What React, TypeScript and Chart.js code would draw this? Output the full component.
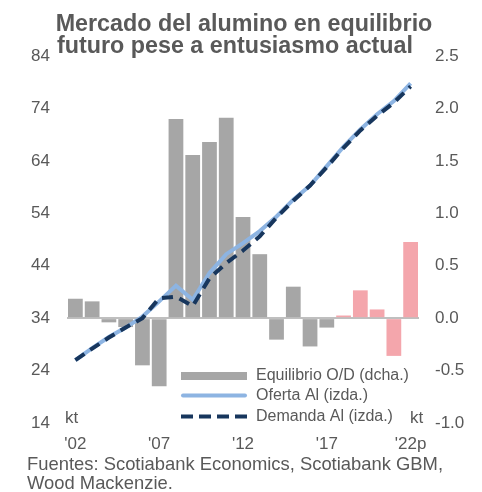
import React, { useEffect, useRef } from "react";
import { Chart, registerables } from "chart.js";

Chart.register(...registerables);

const years = ["'02", "'03", "'04", "'05", "'06", "'07", "'08", "'09", "'10", "'11", "'12", "'13", "'14", "'15", "'16", "'17", "'18", "'19", "'20", "'21", "'22p"];
const equilibrio = [0.185, 0.16, -0.04, -0.085, -0.45, -0.65, 1.9, 1.555, 1.68, 1.91, 0.965, 0.61, -0.205, 0.3, -0.27, -0.09, 0.025, 0.265, 0.083, -0.36, 0.725];
const forecastFrom = 16; // index of first projected year ('18)
const oferta = [26.0, 28.3, 30.4, 32.2, 34.3, 37.2, 40.2, 37.5, 42.6, 46.2, 48.3, 50.6, 53.4, 56.6, 59.3, 63.0, 66.7, 70.0, 72.9, 75.4, 78.8];
const demanda = [26.0, 28.2, 30.3, 32.2, 34.0, 37.8, 38.1, 36.3, 41.6, 44.5, 46.9, 49.6, 53.2, 56.4, 59.3, 62.8, 66.5, 69.8, 72.6, 75.1, 78.2];
const leftTicks = { min: 14, max: 84, step: 10 };
const rightTicks = { min: -1, max: 2.5, step: 0.5 };
const titleLines = ["Mercado del alumino en equilibrio", "futuro pese a entusiasmo actual"];
const sourceLines = ["Fuentes: Scotiabank Economics, Scotiabank GBM,", "Wood Mackenzie."];
const legendLabels = ["Equilibrio O/D (dcha.)", "Oferta Al (izda.)", "Demanda Al (izda.)"];

const GRAY = "#a6a6a6";
const PINK = "#f4a6ac";
const LIGHTBLUE = "#8db4e2";
const NAVY = "#17365d";
const TEXT = "#595959";
const FONT = "'Liberation Sans', Arial, sans-serif";

const decorPlugin = {
  id: "decor",
  afterDraw(chart: any) {
    const ctx = chart.ctx as CanvasRenderingContext2D;
    ctx.save();
    // Title
    ctx.fillStyle = TEXT;
    ctx.font = `bold 23.3px ${FONT}`;
    ctx.textAlign = "center";
    ctx.textBaseline = "alphabetic";
    ctx.fillText(titleLines[0], 244, 31);
    ctx.fillText(titleLines[1], 235, 53);
    // kt labels
    ctx.font = `17px ${FONT}`;
    ctx.textAlign = "left";
    ctx.fillText("kt", 65, 423);
    ctx.fillText("kt", 410, 423);
    // Sources
    ctx.font = `18.4px ${FONT}`;
    ctx.fillText(sourceLines[0], 27, 470);
    ctx.fillText(sourceLines[1], 27, 489);
    // Legend
    const lx = 181;
    const lw = 66;
    const tx = 256;
    const rows = [376, 395.5, 416.5];
    ctx.fillStyle = GRAY;
    ctx.fillRect(lx, rows[0] - 4, lw, 8);
    ctx.strokeStyle = LIGHTBLUE;
    ctx.lineWidth = 4;
    ctx.lineCap = "round";
    ctx.beginPath();
    ctx.moveTo(lx + 2, rows[1]);
    ctx.lineTo(lx + lw - 2, rows[1]);
    ctx.stroke();
    ctx.strokeStyle = NAVY;
    ctx.lineCap = "butt";
    ctx.setLineDash([12, 6]);
    ctx.beginPath();
    ctx.moveTo(lx, rows[2]);
    ctx.lineTo(lx + lw, rows[2]);
    ctx.stroke();
    ctx.setLineDash([]);
    ctx.fillStyle = TEXT;
    ctx.font = `16px ${FONT}`;
    ctx.textBaseline = "middle";
    legendLabels.forEach((l, i) => ctx.fillText(l, tx, rows[i]));
    ctx.restore();
  },
};

export default function App() {
  const ref = useRef<HTMLCanvasElement>(null);
  useEffect(() => {
    if (!ref.current) return;
    const chart = new Chart(ref.current, {
      type: "bar",
      data: {
        labels: years,
        datasets: [
          {
            type: "line",
            label: legendLabels[2],
            data: demanda,
            yAxisID: "y",
            borderColor: NAVY,
            borderWidth: 4,
            borderDash: [11, 7],
            pointRadius: 0,
            tension: 0,
            fill: false,
            order: 1,
          } as any,
          {
            type: "line",
            label: legendLabels[1],
            data: oferta,
            yAxisID: "y",
            borderColor: LIGHTBLUE,
            borderWidth: 4,
            pointRadius: 0,
            tension: 0,
            fill: false,
            order: 2,
          } as any,
          {
            type: "bar",
            label: legendLabels[0],
            data: equilibrio,
            yAxisID: "y1",
            backgroundColor: equilibrio.map((_, i) => (i >= forecastFrom ? PINK : GRAY)),
            categoryPercentage: 1,
            barPercentage: 0.88,
            order: 3,
          } as any,
        ],
      },
      options: {
        animation: false,
        responsive: false,
        layout: { padding: { top: 56, left: 0, right: 0, bottom: 0 } },
        plugins: { legend: { display: false }, title: { display: false }, tooltip: { enabled: false } },
        scales: {
          x: {
            offset: true,
            grid: { display: false, drawTicks: false },
            border: { display: false },
            afterFit: (s: any) => {
              s.height = 69;
            },
            ticks: {
              autoSkip: false,
              maxRotation: 0,
              padding: 11,
              color: TEXT,
              font: { family: FONT, size: 17 },
              callback: (_v: any, i: number) => (i % 5 === 0 ? years[i] : ""),
            },
          },
          y: {
            position: "left",
            min: leftTicks.min,
            max: leftTicks.max,
            grid: { display: false, drawTicks: false },
            border: { display: false },
            afterFit: (s: any) => {
              s.width = 67;
            },
            ticks: {
              stepSize: leftTicks.step,
              padding: 17,
              color: TEXT,
              font: { family: FONT, size: 17 },
            },
          },
          y1: {
            position: "right",
            min: rightTicks.min,
            max: rightTicks.max,
            grid: {
              drawTicks: false,
              lineWidth: 2,
              color: (c: any) => (c.tick && c.tick.value === 0 ? "#bfbfbf" : "rgba(0,0,0,0)"),
            },
            border: { display: false },
            afterFit: (s: any) => {
              s.width = 63;
            },
            ticks: {
              stepSize: rightTicks.step,
              padding: 16,
              color: TEXT,
              font: { family: FONT, size: 17 },
              callback: (v: any) => Number(v).toFixed(1),
            },
          },
        },
      },
      plugins: [decorPlugin],
    });
    return () => chart.destroy();
  }, []);
  return (
    <div style={{ position: "absolute", left: 0, top: 0, width: 482, height: 492, background: "#fff" }}>
      <canvas ref={ref} width={482} height={492} style={{ display: "block" }} />
    </div>
  );
}
